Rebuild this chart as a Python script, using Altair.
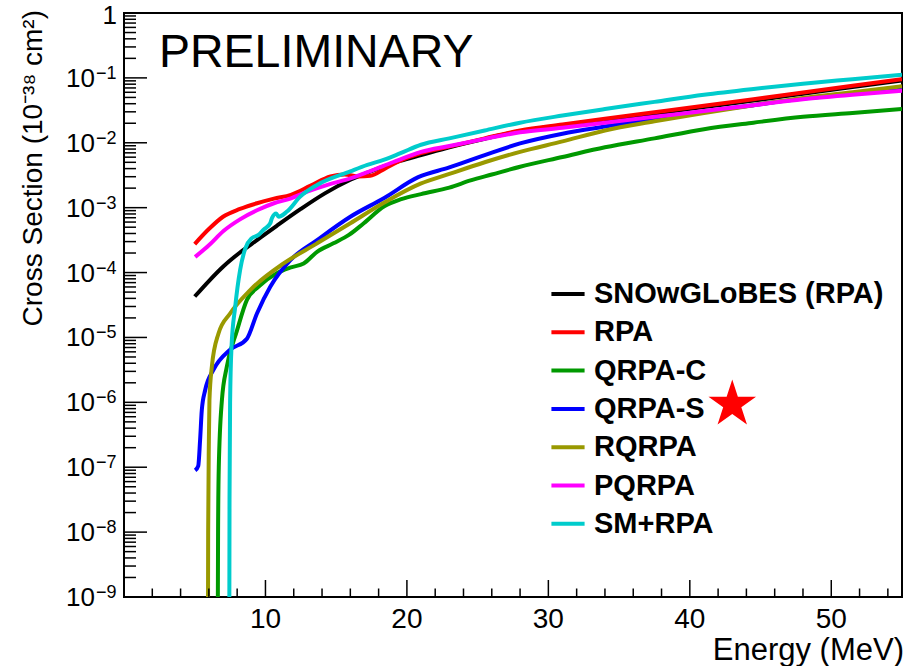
import altair as alt
import pandas as pd

FONT = "Liberation Sans"

series_names = ["SNOwGLoBES (RPA)", "RPA", "QRPA-C", "QRPA-S", "RQRPA", "PQRPA", "SM+RPA"]
series_colors = ["#000000", "#ff0000", "#009900", "#0000ff", "#999900", "#ff00ff", "#00cccc"]

# Energy (MeV) and cross section (1e-38 cm^2)
snow_E = [5.0, 6.0, 7.0, 8.2, 9.4, 10.8, 12.5, 14.2, 16.0, 17.8, 19.5, 21.0, 23.0, 25.5, 28.0, 31.0, 34.0, 37.5, 41.0, 44.5, 48.0, 51.5, 55.0]
snow_xs = [4.27e-5, 7.41e-5, 1.23e-4, 2.04e-4, 3.16e-4, 5.25e-4, 9.55e-4, 1.66e-3, 2.69e-3, 3.89e-3, 5.25e-3, 6.46e-3, 8.51e-3, 1.15e-2, 1.51e-2, 1.86e-2, 2.24e-2, 2.82e-2, 3.55e-2, 4.47e-2, 5.69e-2, 7.24e-2, 9.12e-2]

rpa_E = [5.0, 6.0, 7.0, 8.2, 9.4, 10.6, 11.8, 13.2, 14.6, 15.6, 16.6, 17.4, 18.5, 19.5, 21.0, 23.0, 25.5, 28.0, 31.0, 34.0, 37.5, 41.0, 44.5, 48.0, 51.5, 55.0]
rpa_xs = [2.75e-4, 4.68e-4, 7.24e-4, 9.55e-4, 1.17e-3, 1.38e-3, 1.58e-3, 2.19e-3, 3.02e-3, 3.24e-3, 3.02e-3, 3.09e-3, 4.07e-3, 5.25e-3, 6.92e-3, 8.71e-3, 1.17e-2, 1.55e-2, 1.91e-2, 2.34e-2, 2.95e-2, 3.72e-2, 4.68e-2, 5.96e-2, 7.59e-2, 9.55e-2]

qrpac_E = [6.62, 6.65, 6.70, 6.92, 7.27, 7.98, 8.69, 9.5, 10.8, 11.8, 12.7, 13.65, 14.8, 15.9, 16.95, 18.4, 19.6, 21.0, 23.0, 24.5, 26.0, 28.0, 31.0, 34.0, 37.5, 41.0, 44.5, 48.0, 51.5, 55.0]
qrpac_xs = [1e-10, 1e-8, 1e-7, 1.07e-6, 3.55e-6, 1.26e-5, 3.80e-5, 6.03e-5, 9.77e-5, 1.20e-4, 1.38e-4, 2.09e-4, 2.82e-4, 3.80e-4, 5.75e-4, 1.05e-3, 1.35e-3, 1.62e-3, 2.04e-3, 2.63e-3, 3.24e-3, 4.27e-3, 6.03e-3, 8.51e-3, 1.17e-2, 1.62e-2, 2.04e-2, 2.51e-2, 2.88e-2, 3.31e-2]

qrpas_E = [5.03, 5.25, 5.38, 5.5, 5.74, 6.32, 7.5, 8.69, 9.4, 10.34, 11.76, 13.65, 16.0, 18.4, 20.8, 23.0, 25.5, 28.0, 31.0, 34.0, 37.5, 41.0, 44.5, 48.0, 51.5, 55.0]
qrpas_xs = [8.91e-8, 1.05e-7, 2.63e-7, 7.59e-7, 1.55e-6, 3.16e-6, 6.46e-6, 9.55e-6, 2.34e-5, 6.03e-5, 1.55e-4, 3.16e-4, 7.24e-4, 1.41e-3, 2.95e-3, 4.17e-3, 6.46e-3, 9.77e-3, 1.38e-2, 1.78e-2, 2.34e-2, 3.02e-2, 3.80e-2, 4.79e-2, 5.75e-2, 6.76e-2]

rqrpa_E = [5.93, 5.95, 6.0, 6.04, 6.21, 6.68, 7.5, 8.92, 11.28, 13.65, 16.0, 18.4, 20.96, 23.0, 25.5, 28.0, 31.0, 34.0, 37.5, 41.0, 44.5, 48.0, 51.5, 55.0]
rqrpa_xs = [1e-10, 1e-8, 2.51e-7, 1.07e-6, 3.55e-6, 1.15e-5, 2.34e-5, 5.37e-5, 1.38e-4, 2.82e-4, 5.75e-4, 1.20e-3, 2.34e-3, 3.31e-3, 5.01e-3, 7.24e-3, 1.05e-2, 1.55e-2, 2.14e-2, 2.88e-2, 3.80e-2, 4.90e-2, 6.03e-2, 7.41e-2]

pqrpa_E = [5.03, 6.0, 7.03, 8.2, 9.4, 10.6, 11.76, 13.0, 14.5, 16.0, 17.5, 19.0, 21.0, 23.0, 25.5, 28.0, 31.0, 34.0, 37.5, 41.0, 44.5, 48.0, 51.5, 55.0]
pqrpa_xs = [1.74e-4, 2.63e-4, 4.37e-4, 6.61e-4, 9.12e-4, 1.17e-3, 1.38e-3, 1.78e-3, 2.29e-3, 2.82e-3, 3.72e-3, 5.01e-3, 7.24e-3, 8.91e-3, 1.15e-2, 1.45e-2, 1.70e-2, 2.04e-2, 2.51e-2, 3.09e-2, 3.80e-2, 4.68e-2, 5.50e-2, 6.31e-2]

smrpa_E = [7.44, 7.46, 7.50, 7.60, 7.86, 8.21, 8.57, 9.04, 9.51, 9.87, 10.34, 10.46, 10.76, 10.93, 11.52, 12.46, 13.65, 16.0, 17.2, 18.4, 19.55, 21.0, 23.0, 25.5, 28.0, 31.0, 34.0, 37.5, 41.0, 44.5, 48.0, 51.5, 55.0]
smrpa_xs = [1e-10, 3.16e-8, 1e-6, 7.08e-6, 2.95e-5, 1.10e-4, 2.34e-4, 3.39e-4, 3.80e-4, 4.57e-4, 5.75e-4, 6.92e-4, 8.13e-4, 7.24e-4, 8.71e-4, 1.48e-3, 2.24e-3, 3.63e-3, 4.57e-3, 5.50e-3, 6.92e-3, 9.33e-3, 1.17e-2, 1.55e-2, 2.04e-2, 2.63e-2, 3.31e-2, 4.27e-2, 5.50e-2, 6.76e-2, 8.13e-2, 9.55e-2, 1.12e-1]

series_E = [snow_E, rpa_E, qrpac_E, qrpas_E, rqrpa_E, pqrpa_E, smrpa_E]
series_xs = [snow_xs, rpa_xs, qrpac_xs, qrpas_xs, rqrpa_xs, pqrpa_xs, smrpa_xs]

# axis ticks / labels
x_major_ticks = [10, 20, 30, 40, 50]
x_tick_labels = ["10", "20", "30", "40", "50"]
x_minor_ticks = [2, 4, 6, 8, 12, 14, 16, 18, 22, 24, 26, 28, 32, 34, 36, 38, 42, 44, 46, 48, 52, 54]
y_major_ticks = [1e-8, 1e-7, 1e-6, 1e-5, 1e-4, 1e-3, 1e-2, 1e-1]
y_minor_ticks = [m * 10.0 ** k for k in range(-9, 0) for m in range(2, 10)]
y_label_values = [1e-1, 1e-2, 1e-3, 1e-4, 1e-5, 1e-6, 1e-7, 1e-8, 1e-9]
y_label_exps = ["\u22121", "\u22122", "\u22123", "\u22124", "\u22125", "\u22126", "\u22127", "\u22128", "\u22129"]

star_E = [43.0]
star_xs = [9.3e-7]
STAR_PATH = ("M0,-1L0.2245,-0.309L0.951,-0.309L0.363,0.118L0.588,0.809L0,0.382"
             "L-0.588,0.809L-0.363,0.118L-0.951,-0.309L-0.2245,-0.309Z")

rows = []
for name, es, vs in zip(series_names, series_E, series_xs):
    for e, v in zip(es, vs):
        rows.append({"model": name, "E": e, "xs": v})
df = pd.DataFrame(rows)

W, H = 778, 584
xscale = alt.Scale(domain=[0, 55], nice=False, zero=False)
yscale = alt.Scale(type="log", domain=[1e-9, 1], nice=False)

lines = alt.Chart(df).mark_line(strokeWidth=4, clip=True, interpolate="monotone").encode(
    x=alt.X("E:Q", scale=xscale, axis=None),
    y=alt.Y("xs:Q", scale=yscale, axis=None),
    color=alt.Color("model:N", scale=alt.Scale(domain=series_names, range=series_colors),
                    legend=alt.Legend(orient="none", legendX=425, legendY=262, title=None,
                                      symbolType="stroke", symbolStrokeWidth=4, symbolSize=1100,
                                      labelFont=FONT, labelFontSize=29, labelFontWeight="bold",
                                      labelColor="black", labelLimit=600, labelOffset=7,
                                      rowPadding=4.3, padding=0)),
)

xmaj = alt.Chart(pd.DataFrame({"E": x_major_ticks})).mark_rule(color="black", strokeWidth=1.5).encode(
    x=alt.X("E:Q", scale=xscale, axis=None), y=alt.value(H), y2=alt.value(H - 17))
xmin = alt.Chart(pd.DataFrame({"E": x_minor_ticks})).mark_rule(color="black", strokeWidth=1.5).encode(
    x=alt.X("E:Q", scale=xscale, axis=None), y=alt.value(H), y2=alt.value(H - 8.5))
ymaj = alt.Chart(pd.DataFrame({"xs": y_major_ticks})).mark_rule(color="black", strokeWidth=1.5).encode(
    y=alt.Y("xs:Q", scale=yscale, axis=None), x=alt.value(0), x2=alt.value(23))
ymin = alt.Chart(pd.DataFrame({"xs": y_minor_ticks})).mark_rule(color="black", strokeWidth=1.5).encode(
    y=alt.Y("xs:Q", scale=yscale, axis=None), x=alt.value(0), x2=alt.value(12))

xlab = alt.Chart(pd.DataFrame({"E": x_major_ticks, "t": x_tick_labels})).mark_text(
    font=FONT, fontSize=28, align="center", baseline="alphabetic", color="black").encode(
    x=alt.X("E:Q", scale=xscale, axis=None), y=alt.value(H + 30.5), text="t:N")
xtitle = alt.Chart(pd.DataFrame({"t": ["Energy (MeV)"]})).mark_text(
    font=FONT, fontSize=31, align="right", baseline="alphabetic", color="black").encode(
    x=alt.value(W + 2), y=alt.value(H + 63), text="t:N")

ylab_df = pd.DataFrame({"xs": y_label_values, "exp": y_label_exps})
ylab_base = alt.Chart(ylab_df).mark_text(font=FONT, fontSize=26, align="right", baseline="alphabetic",
                                         dy=9, color="black").encode(
    y=alt.Y("xs:Q", scale=yscale, axis=None), x=alt.value(-29), text=alt.value("10"))
ylab_exp = alt.Chart(ylab_df).mark_text(font=FONT, fontSize=18, align="left", baseline="alphabetic",
                                        dy=1, color="black").encode(
    y=alt.Y("xs:Q", scale=yscale, axis=None), x=alt.value(-28), text="exp:N")
ylab_one = alt.Chart(pd.DataFrame({"xs": [1.0], "t": ["1"]})).mark_text(
    font=FONT, fontSize=26, align="right", baseline="alphabetic", dy=11, color="black").encode(
    y=alt.Y("xs:Q", scale=yscale, axis=None), x=alt.value(-7), text="t:N")

ytitle = alt.Chart(pd.DataFrame({"t": ["Cross Section (10\u207b\u00b3\u2078 cm\u00b2)"]})).mark_text(
    font=FONT, fontSize=28, angle=270, align="right", baseline="alphabetic", color="black").encode(
    x=alt.value(-82), y=alt.value(-3), text="t:N")

prelim = alt.Chart(pd.DataFrame({"t": ["PRELIMINARY"]})).mark_text(
    font=FONT, fontSize=46.5, align="left", baseline="alphabetic", color="black").encode(
    x=alt.value(35), y=alt.value(54), text="t:N")

star = alt.Chart(pd.DataFrame({"E": star_E, "xs": star_xs})).mark_point(
    shape=STAR_PATH, filled=True, size=2500, color="#ff0000", opacity=1).encode(
    x=alt.X("E:Q", scale=xscale, axis=None), y=alt.Y("xs:Q", scale=yscale, axis=None))

chart = alt.layer(lines, xmaj, xmin, ymaj, ymin, xlab, xtitle, ylab_base, ylab_exp, ylab_one,
                  ytitle, prelim, star).properties(
    width=W, height=H,
    padding={"left": 124, "top": 13, "right": 2, "bottom": 69},
    autosize=alt.AutoSizeParams(type="none"),
    background="white",
).configure_view(stroke="black", strokeWidth=2)

chart.save("out.html", embed_options={"renderer": "svg", "actions": False})
